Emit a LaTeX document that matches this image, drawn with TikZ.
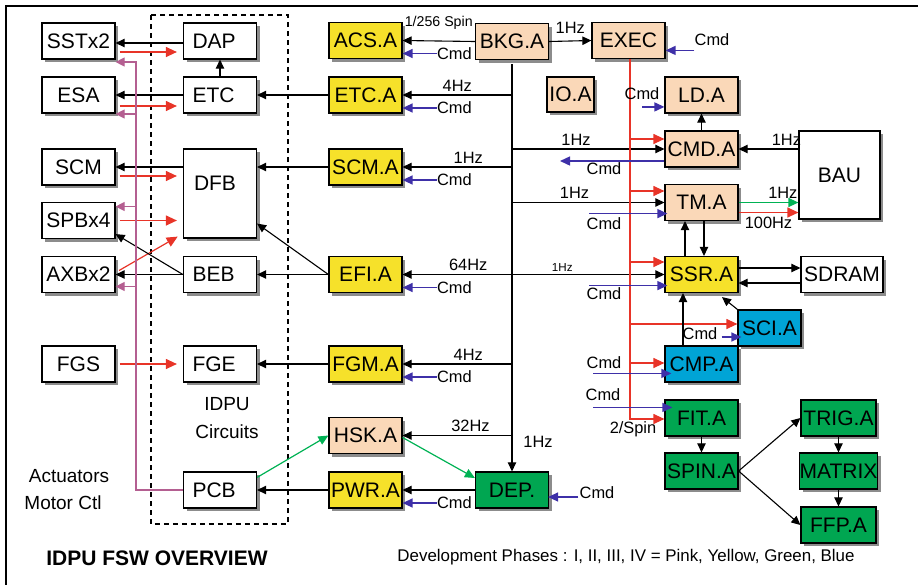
\documentclass[tikz,border=0pt]{standalone}
\usepackage{fontspec}
\setmainfont{Liberation Sans}
\usepackage{xcolor}
\usepackage{tikz}
\usetikzlibrary{arrows.meta,shadows}
\definecolor{phPink}{RGB}{250,216,184}
\definecolor{phYellow}{RGB}{246,225,42}
\definecolor{phGreen}{RGB}{0,166,81}
\definecolor{phBlue}{RGB}{0,164,214}
\definecolor{cmdBlue}{RGB}{62,48,168}
\definecolor{sigRed}{RGB}{232,52,40}
\definecolor{pwrMauve}{RGB}{180,95,145}
\definecolor{hkGreen}{RGB}{0,178,84}
\newcommand{\boxfont}{\fontsize{10.5}{12}\selectfont}
\newcommand{\labfont}{\fontsize{8.2}{9.5}\selectfont}

\begin{document}
\begin{tikzpicture}[x=0.5pt, y=-0.5pt,
  fsw/.style={draw, line width=0.6pt, inner sep=0pt, minimum width=36.5pt,
    minimum height=18pt, font=\boxfont,
    drop shadow={shadow xshift=1.6pt, shadow yshift=-1.6pt, opacity=1, fill=black!45}},
  wbox/.style={fsw, fill=white},
  ibox/.style={wbox, text width=27.5pt, inner xsep=4.5pt, align=left},
  pbox/.style={fsw, fill=phPink},
  ybox/.style={fsw, fill=phYellow},
  gbox/.style={fsw, fill=phGreen},
  cbox/.style={fsw, fill=phBlue},
  lab/.style={font=\labfont, inner sep=0pt},
  smalllab/.style={font=\fontsize{5.8}{7}\selectfont, inner sep=0pt},
  bk/.style={draw=black, line width=0.55pt, -{Triangle[length=4.5pt,width=4.2pt]}},
  rd/.style={draw=sigRed, line width=0.6pt, -{Triangle[length=5.5pt,width=5pt]}},
  rdx/.style={rd, shorten <=2pt, shorten >=3pt},
  bl/.style={draw=cmdBlue, line width=0.7pt, -{Triangle[length=5pt,width=4.5pt]}},
  pk/.style={draw=pwrMauve, line width=0.6pt, -{Triangle[length=4.5pt,width=4.5pt]}},
  gr/.style={draw=hkGreen, line width=0.6pt, -{Triangle[length=5pt,width=4.5pt]}}]
  \useasboundingbox (0,0) rectangle (918,585);
  % --- frame and the IDPU circuits group ----------------------------------
  \draw[line width=1pt] (6,585) -- (6,6) -- (918,6);
  \draw[line width=0.9pt, dash pattern=on 2.5pt off 2pt] (151,15) rectangle (288,524);
  \node[font=\fontsize{9.5}{11}\selectfont] (idpu) at (227,404) {IDPU};
  \node[font=\fontsize{9.5}{11}\selectfont] (circ) at (227,432) {Circuits};
  \node[font=\fontsize{9.5}{11}\selectfont] (act) at (69,476) {Actuators};
  \node[font=\fontsize{9.5}{11}\selectfont] (motor) at (63,503) {Motor Ctl};

  % --- boxes ----------------------------------------------------------------
  \foreach \n/\y/\txt in {sst/41/SSTx2, esa/95/ESA, scm/167/SCM, spb/220.5/SPBx4, axb/274.5/AXBx2, fgs/364/FGS}
    \node[wbox] (\n) at (78.5,\y) {\txt};
  \foreach \n/\y/\txt in {dap/41/DAP, etcc/95/ETC, beb/274.5/BEB, fge/364/FGE, pcb/490/PCB}
    \node[ibox] (\n) at (220,\y) {\txt};
  \node[wbox, minimum height=44.5pt] (dfb) at (220,193.5) {};
  \node[font=\boxfont] (dfbt) at (215,183) {DFB};
  \foreach \n/\y/\txt in {acs/40.5/ACS.A, etca/95/ETC.A, scma/167/SCM.A, efia/274.5/EFI.A, fgma/364/FGM.A, pwra/490/PWR.A}
    \node[ybox] (\n) at (365.5,\y) {\txt};
  \node[pbox] (hska) at (365.5,435.5) {HSK.A};
  \node[pbox] (bkg) at (512,41.5) {BKG.A};
  \node[pbox] (exec) at (628.5,40.5) {EXEC};
  \node[pbox, minimum width=23.5pt, minimum height=17.5pt] (ioa) at (570.5,94.5) {IO.A};
  \node[gbox] (dep) at (512,490) {DEP.};
  \foreach \n/\y/\txt in {ld/95/LD.A, cmd/149/CMD.A, tm/202.5/TM.A}
    \node[pbox] (\n) at (701.5,\y) {\txt};
  \node[ybox] (ssr) at (701.5,274.5) {SSR.A};
  \node[cbox] (cmp) at (701.5,364) {CMP.A};
  \node[cbox, minimum width=31.5pt] (sci) at (769.5,328) {SCI.A};
  \node[gbox] (fit) at (701.5,418) {FIT.A};
  \node[gbox] (spin) at (701.5,471) {SPIN.A};
  \foreach \n/\y/\txt in {trig/418/TRIG.A, mtx/471/MATRIX, ffp/525/FFP.A}
    \node[gbox, minimum width=37.5pt] (\n) at (838.5,\y) {\txt};
  \node[wbox, minimum width=40.5pt, minimum height=44pt] (bau) at (839.5,175) {BAU};
  \node[wbox, minimum width=41pt] (sdram) at (842,274.5) {SDRAM};

  % --- instruments <-> IDPU circuits ------------------------------------------
  \draw[bk] ([yshift=-1pt]dap.west) -- ([yshift=-1pt]dap.west -| sst.east);
  \draw[rdx] ([yshift=-5.5pt]sst.east) -- ([yshift=-5.5pt]sst.east -| dap.west);
  \draw[bk] (etcc.west) -- (esa.east);
  \draw[rdx] ([yshift=-5.5pt]esa.east) -- ([yshift=-5.5pt]esa.east -| etcc.west);
  \draw[bk] (etcc.north) -- (dap.south);
  \draw[bk] (scm.east -| dfb.west) -- (scm.east);
  \draw[rdx] ([yshift=-4.5pt]scm.east) -- ([yshift=-4.5pt]scm.east -| dfb.west);
  \draw[rdx] (spb.east) -- (spb.east -| dfb.west);
  \draw[rdx] ([yshift=1pt]axb.east) -- ([yshift=2.5pt]dfb.south west);
  \draw[bk] (beb.west) -- ([yshift=2.5pt]spb.south east);
  \draw[bk] (beb.west) -- (axb.east);
  \draw[rdx] (fgs.east) -- (fge.west);
  % power / actuator line from PCB
  \coordinate (pwrbus) at (136,62);
  \draw[pk] (pcb.west) -| (pwrbus) -- (pwrbus -| sst.east);
  \draw[pk] ([yshift=-9.5pt]esa.east -| pwrbus) -- ([yshift=-9.5pt]esa.east);
  \draw[pk] ([yshift=7pt]spb.east -| pwrbus) -- ([yshift=7pt]spb.east);
  \draw[pk] ([yshift=-6pt]axb.east -| pwrbus) -- ([yshift=-6pt]axb.east);

  % --- drivers -> circuits --------------------------------------------------
  \draw[bk] (etca.west) -- (etcc.east);
  \draw[bk] (scma.west) -- (scma.west -| dfb.east);
  \draw[bk] (efia.west) -- (beb.east);
  \draw[bk] (efia.west) -- ([yshift=7.5pt]dfb.south east);
  \draw[bk] (fgma.west) -- (fge.east);
  \draw[bk] (pwra.west) -- (pcb.east);
  \draw[gr] ([yshift=-3pt]pcb.north east) -- (hska.west);
  \foreach \n in {acs,etca,scma,efia,fgma,pwra} {
    \node[lab, anchor=west] (c\n) at ([xshift=17pt,yshift=-6.5pt]\n.east) {Cmd};
    \draw[bl] (c\n.west) -- (c\n.west -| \n.east);
  }

  % --- background task and its clock bus ----------------------------------
  \draw[bk] (bkg.west) -- node[font=\fontsize{7.1}{8}\selectfont, inner sep=0pt, above=5.5pt] (l256) {1/256 Spin} (acs.east);
  \draw[bk] (bkg.east) -- node[lab, above=3.5pt] (lexec) {1Hz} (exec.west);
  \coordinate (bus) at (512,64);
  \draw[bk] (bus) -- (dep.north);
  \node[lab] (ldep) at (538,442) {1Hz};
  \foreach \n/\f/\p in {etca/4Hz/.5, scma/1Hz/.4, efia/64Hz/.4, fgma/4Hz/.4, hska/32Hz/.38}
    \draw[bk] (bus |- \n.east) -- node[lab, above=1.5pt, pos=\p] {\f} (\n.east);
  \draw[bk] (bus |- efia.east) -- node[smalllab, above=1pt, pos=.33] (lssr) {1Hz} (ssr.west);
  \draw[bk] (bus |- cmd.west) -- node[lab, above=1.5pt, pos=.42] (lcmd) {1Hz} (cmd.west);
  \draw[bk] (bus |- tm.west) -- node[lab, above=1.5pt, pos=.41] (ltm) {1Hz} (tm.west);
  \draw[bk] (dep.west) -- (pwra.east);
  \draw[gr] ([yshift=-1pt]hska.east) -- ([yshift=6pt]dep.west);
  \node[lab] (cdep) at (597,493) {Cmd};
  \draw[bl] ([xshift=-0.5pt,yshift=-2pt]cdep.west) -- ([xshift=-0.5pt,yshift=-2pt]cdep.west -| dep.east);

  % --- executive and its enable lines ----------------------------------------
  \coordinate (rb) at ([xshift=0.75pt]exec.south);
  \draw[rd] (rb) |- ([yshift=-0.5pt]fit.west);
  \foreach \n/\s in {cmd/5pt, tm/5.75pt, ssr/6.25pt, sci/2pt, cmp/0.5pt}
    \draw[rd] ([yshift=\s]\n.west -| rb) -- ([yshift=\s]\n.west);
  \node[lab] (cexec) at (712,40) {Cmd};
  \draw[bl] ([yshift=-2pt]cexec.south west) -- ([yshift=-2pt]cexec.south west -| exec.east);
  \node[lab] (cld) at (642,93.5) {Cmd};
  \draw[bl] ([yshift=-3.5pt]cld.south) -- ([yshift=-3.5pt]cld.south -| ld.west);
  \coordinate (kcmd) at (560,161);
  \draw[bl] (kcmd -| cmd.west) -- (kcmd);
  \node[lab] (ccmd) at (604,169) {Cmd};
  \node[lab] (ctm) at (604,224) {Cmd};
  \draw[bl] ([xshift=1.5pt,yshift=2pt]ctm.north west) -- ([xshift=1.5pt,yshift=2pt]ctm.north west -| tm.west);
  \node[lab] (cssr) at (604,294) {Cmd};
  \draw[bl] ([xshift=1.5pt,yshift=1pt]cssr.north west) -- ([xshift=1.5pt,yshift=1pt]cssr.north west -| ssr.west);
  \node[lab] (ccmp) at (604,363) {Cmd};
  \draw[bl] ([xshift=3.5pt,yshift=-2pt]ccmp.south west) -- ([xshift=3.5pt,yshift=-2pt]ccmp.south west -| cmp.west);
  \node[lab] (cfit) at (603,395) {Cmd};
  \draw[bl] ([xshift=4pt,yshift=-3pt]cfit.south west) -- ([xshift=4pt,yshift=-3pt]cfit.south west -| fit.west);
  \node[lab] (spin2) at (633,429) {2/Spin};
  \node[lab] (csci) at (700,334) {Cmd};
  \draw[bl] ([xshift=2pt,yshift=-1.5pt]csci.east) -- ([xshift=2pt,yshift=-1.5pt]csci.east -| sci.west);

  % --- command, telemetry and storage -----------------------------------------
  \draw[bk] (cmd.north) -- (ld.south);
  \draw[bk] (bau.west |- cmd.east) -- node[lab, above=1.5pt, pos=.2] (lbau) {1Hz} (cmd.east);
  \draw[gr] (tm.east) -- node[lab, above=1.5pt, pos=.74] (lbau1) {1Hz} (tm.east -| bau.west);
  \draw[rd] ([yshift=-5pt]tm.east) -- node[lab, below=2pt] (lbau2) {100Hz} ([yshift=-5pt]tm.east -| bau.west);
  \draw[bk] ([xshift=-8.25pt]ssr.north) -- ([xshift=-8.25pt]tm.south);
  \draw[bk] ([xshift=1.25pt]tm.south) -- ([xshift=1.25pt]ssr.north);
  \draw[bk] ([yshift=3.25pt]ssr.east) -- ([yshift=3.25pt]ssr.east -| sdram.west);
  \draw[bk] ([yshift=-4.25pt]sdram.west) -- ([yshift=-4.25pt]sdram.west -| ssr.east);
  \draw[bk] ([xshift=-9.25pt]cmp.north) -- ([xshift=-9.25pt]ssr.south);
  \draw[bk] (sci.north west) -- ([xshift=10.25pt,yshift=-2pt]ssr.south);
  \draw[bk] (fit.south) -- (spin.north);
  \draw[bk] (spin.east) -- (trig.west);
  \draw[bk] (spin.east) -- (ffp.west);
  \draw[bk] (trig.south) -- (mtx.north);
  \draw[bk] (mtx.south) -- (ffp.north);

  % --- captions -----------------------------------------------------------
  \node[font=\bfseries\fontsize{10.5}{12}\selectfont] (title) at (157,558) {IDPU FSW OVERVIEW};
  \node[font=\fontsize{8.45}{10}\selectfont] (phases) at (626,557) {Development Phases : I, II, III, IV = Pink, Yellow, Green, Blue};
\end{tikzpicture}
\end{document}
